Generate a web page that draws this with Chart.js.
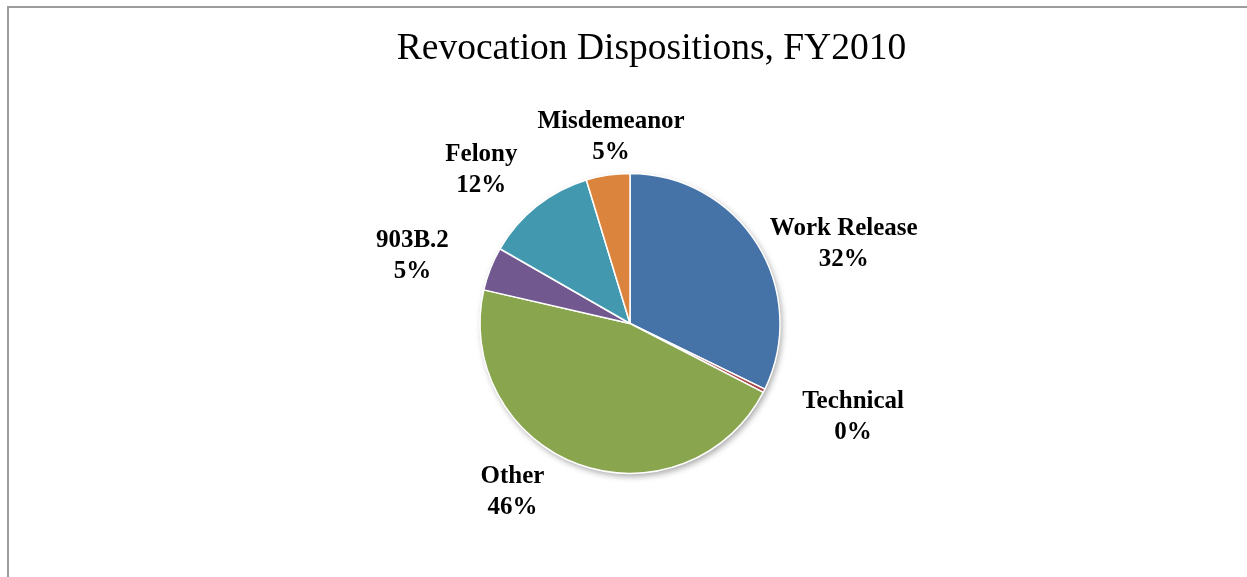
<!DOCTYPE html>
<html>
<head>
<meta charset="utf-8">
<script src="https://cdn.jsdelivr.net/npm/chart.js@4"></script>
<style>
    html, body { margin: 0; padding: 0; background: #ffffff; }
    #wrap { width: 1247px; height: 577px; position: relative; }
</style>
</head>
<body>
<div id="wrap"><canvas id="pieCanvas"></canvas></div>
<script>
// slices, clockwise from 12 o'clock
const categories = ["Work Release", "Technical", "Other", "903B.2", "Felony", "Misdemeanor"];
const shares = [32.2, 0.4, 46.0, 4.7, 12.0, 4.7];
const sliceColors = ["#4572A7", "#AA4643", "#89A54E", "#71588F", "#4198AF", "#DB843D"];
const chartTitle = "Revocation Dispositions, FY2010";

// excel's "best fit" moves some labels off the plain outside-end spot
const labelNudge = [[12, 24], [31, 6], [-50, -15], [-31, 4], [-24, -1], [16, 6]];

const serif = "'Liberation Serif', 'Times New Roman', serif";
const total = shares.reduce((a, b) => a + b, 0);

// grey frame on the top and left edges + the title
const framePlugin = {
    id: "frame",
    beforeDraw(chart) {
        const ctx = chart.ctx;
        ctx.save();
        ctx.strokeStyle = "#9c9c9c";
        ctx.lineWidth = 2;
        ctx.beginPath();
        ctx.moveTo(8, chart.height);
        ctx.lineTo(8, 7);
        ctx.lineTo(chart.width, 7);
        ctx.stroke();

        ctx.font = "37.5px " + serif;
        ctx.fillStyle = "#000000";
        ctx.textAlign = "center";
        ctx.textBaseline = "alphabetic";
        ctx.fillText(chartTitle, chart.width / 2 + 28, 59);
        ctx.restore();
    }
};

// soft shadow under the pie
const shadowPlugin = {
    id: "pieShadow",
    beforeDatasetsDraw(chart) {
        const arc = chart.getDatasetMeta(0).data[0];
        if (!arc) return;
        const ctx = chart.ctx;
        ctx.save();
        ctx.shadowColor = "rgba(0,0,0,0.35)";
        ctx.shadowBlur = 6;
        ctx.shadowOffsetX = 2;
        ctx.shadowOffsetY = 3;
        ctx.fillStyle = "#ffffff";
        ctx.beginPath();
        ctx.arc(arc.x, arc.y, arc.outerRadius, 0, Math.PI * 2);
        ctx.fill();
        ctx.restore();
    }
};

// category name + percent outside each slice
const labelPlugin = {
    id: "sliceLabels",
    afterDatasetsDraw(chart) {
        const ctx = chart.ctx;
        const meta = chart.getDatasetMeta(0);
        const lineH = 31;
        const gap = 14;
        ctx.save();
        ctx.font = "bold 25px " + serif;
        ctx.fillStyle = "#000000";
        ctx.textAlign = "center";
        ctx.textBaseline = "middle";
        meta.data.forEach((arc, i) => {
            const mid = (arc.startAngle + arc.endAngle) / 2;
            const dx = Math.cos(mid);
            const dy = Math.sin(mid);
            const lines = [categories[i], Math.round(shares[i] / total * 100) + "%"];
            const w = Math.max(...lines.map(t => ctx.measureText(t).width));
            const h = lineH * lines.length;
            const cx = arc.x + dx * (arc.outerRadius + gap) + dx * w / 2 + labelNudge[i][0];
            const cy = arc.y + dy * (arc.outerRadius + gap) + dy * h / 2 + labelNudge[i][1];
            lines.forEach((t, k) => {
                ctx.fillText(t, cx, cy - h / 2 + lineH / 2 + k * lineH);
            });
        });
        ctx.restore();
    }
};

const piePlot = new Chart(document.getElementById("pieCanvas").getContext("2d"), {
    type: "pie",
    data: {
        labels: categories,
        datasets: [{
            data: shares,
            backgroundColor: sliceColors,
            borderColor: "#ffffff",
            borderWidth: 1.5
        }]
    },
    options: {
        responsive: true,
        maintainAspectRatio: false,
        animation: false,
        radius: 150,
        layout: {
            padding: { top: 173.5, bottom: 103.5, left: 13, right: 0 }
        },
        plugins: {
            legend: { display: false },
            tooltip: { enabled: false },
            title: { display: false }
        }
    },
    plugins: [framePlugin, shadowPlugin, labelPlugin]
});
</script>
</body>
</html>
